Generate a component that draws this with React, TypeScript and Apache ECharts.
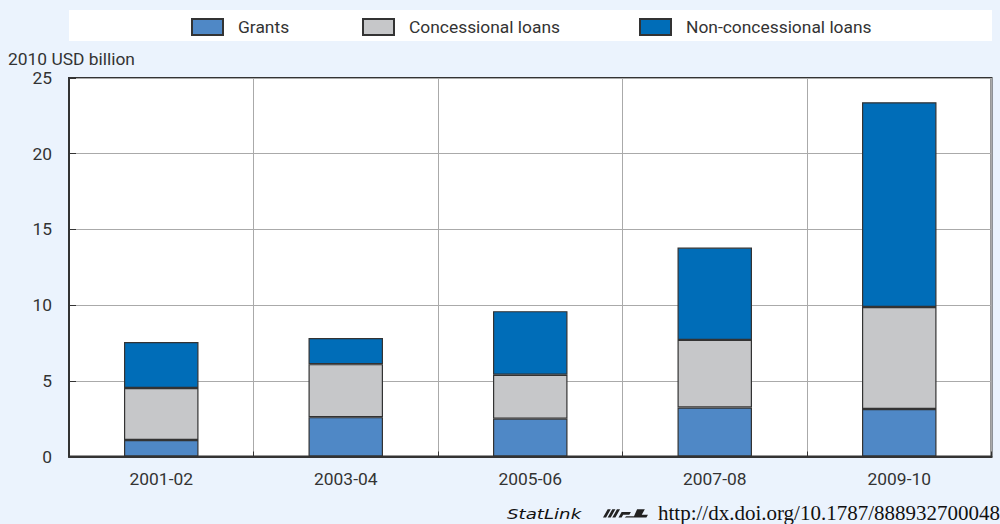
import React, { useEffect, useRef } from "react";
import * as echarts from "echarts";

const categories = ["2001-02", "2003-04", "2005-06", "2007-08", "2009-10"];
const grants = [1.09, 2.6, 2.5, 3.24, 3.14];
const concessional = [3.43, 3.5, 2.9, 4.46, 6.73];
const nonConcessional = [3.04, 1.73, 4.2, 6.1, 13.53];
const seriesNames = ["Grants", "Concessional loans", "Non-concessional loans"];
const legendLefts = [191, 362, 639];
const yTicks = { min: 0, max: 25, interval: 5 };
const FONT = "Roboto, 'Liberation Sans', sans-serif";
const FONT_SIZE = 17.4;
const TEXT = "#333";
const BG = "#EBF3FD";

echarts.graphic.registerShape(
  "statlogo",
  echarts.graphic.extendPath(
    "M0 9L3 3H5L2 9ZM3 9L6 3H8L5 9ZM6 9L9 3H11L8 9ZM10 9L12 5H18L17 7H13L12 9ZM14 9L15 8H20L22 3H27L25 7H29L28 9Z",
    {}
  )
);

export default function App() {
  const ref = useRef<HTMLDivElement>(null);
  useEffect(() => {
    document.body.style.margin = "0";
    document.body.style.background = BG;
    const chart = echarts.init(ref.current!, null, { renderer: "svg" });
    const bar = (name: string, data: number[], color: string) => ({
      name,
      type: "bar" as const,
      stack: "total",
      data,
      barWidth: 74.5,
      itemStyle: { color, borderColor: "#333", borderWidth: 1.2 },
    });
    chart.setOption({
      animation: false,
      backgroundColor: BG,
      textStyle: { fontFamily: FONT },
      title: {
        text: "2010 USD billion",
        left: 8,
        top: 50,
        padding: 0,
        textStyle: { fontFamily: FONT, fontSize: FONT_SIZE, fontWeight: "normal", color: TEXT },
      },
      legend: seriesNames.map((name, i) => ({
        left: legendLefts[i],
        top: 18,
        padding: 0,
        icon: "rect",
        itemWidth: 31,
        itemHeight: 16,
        textStyle: {
          fontFamily: FONT,
          fontSize: FONT_SIZE,
          color: TEXT,
          padding: [0, 0, 0, 10],
        },
        data: [name],
      })),
      grid: {
        left: 69,
        top: 78,
        width: 922.5,
        height: 378.5,
        show: true,
        backgroundColor: "#fff",
        borderColor: "#333",
        borderWidth: 2,
      },
      xAxis: {
        type: "category",
        data: categories,
        axisLine: { show: true, lineStyle: { color: "#333", width: 2 } },
        axisTick: { show: true, inside: true, length: 5, lineStyle: { color: "#333" } },
        splitLine: { show: true, lineStyle: { color: "#aaa", width: 1 } },
        axisLabel: { fontFamily: FONT, fontSize: FONT_SIZE, color: TEXT, margin: 14 },
      },
      yAxis: {
        type: "value",
        ...yTicks,
        axisLine: { show: true, lineStyle: { color: "#333", width: 2 } },
        axisTick: { show: true, inside: true, length: 7, lineStyle: { color: "#333" } },
        splitLine: { show: true, lineStyle: { color: "#aaa", width: 1 } },
        axisLabel: { fontFamily: FONT, fontSize: FONT_SIZE, color: TEXT, margin: 17 },
      },
      graphic: [
        {
          type: "rect",
          z: -1,
          silent: true,
          shape: { x: 69, y: 10, width: 923, height: 31 },
          style: { fill: "#fff" },
        },
        {
          type: "text",
          x: 507,
          y: 507,
          scaleX: 1.3,
          style: {
            text: "StatLink",
            fontFamily: "'DejaVu Sans'",
            fontStyle: "italic",
            fontSize: 14,
            fill: "#111",
          },
        },
        {
          type: "statlogo",
          x: 603,
          y: 505,
          scaleX: 1.55,
          scaleY: 1.4,
          style: { fill: "#222" },
        },
        {
          type: "text",
          x: 658,
          y: 503,
          scaleX: 1.05,
          style: {
            text: "http://dx.doi.org/10.1787/888932700048",
            fontFamily: "'Liberation Serif'",
            fontSize: 20,
            fill: "#111",
          },
        },
      ],
      series: [
        bar("Grants", grants, "#4F88C6"),
        bar("Concessional loans", concessional, "#C6C7C9"),
        bar("Non-concessional loans", nonConcessional, "#006DB8"),
      ],
    });
    return () => chart.dispose();
  }, []);
  return <div ref={ref} style={{ width: 1000, height: 524 }} />;
}
